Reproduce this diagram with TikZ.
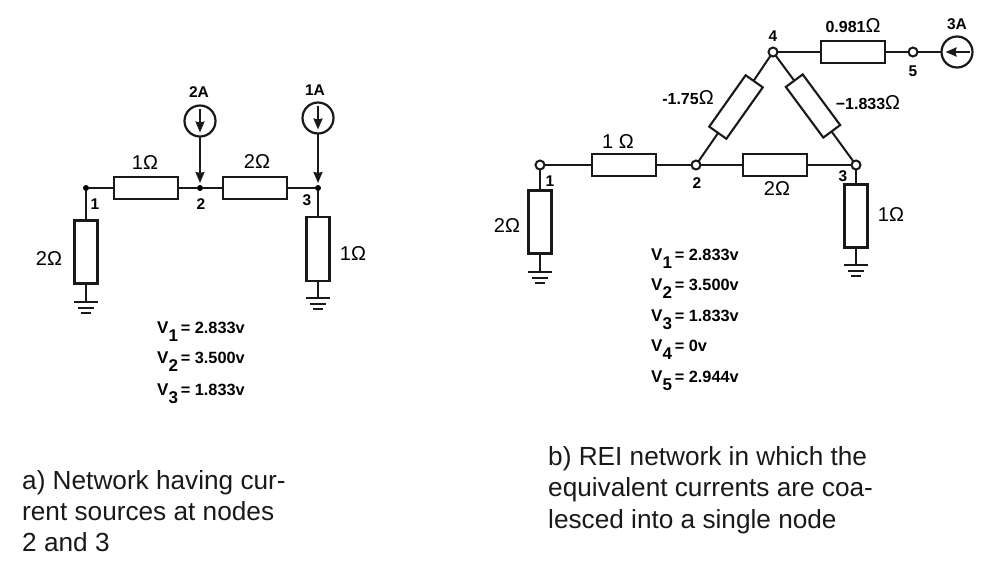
\documentclass[tikz,border=0pt]{standalone}
\usepackage{fontspec}
\setmainfont{Liberation Sans}
\usetikzlibrary{arrows.meta}
\newcommand{\sz}[1]{\fontsize{#1}{#1}\selectfont}
\newcommand{\vlab}[2]{\sz{17}\bfseries V\raisebox{-8pt}{\sz{17}#1}\,\sz{16.3}#2}
\newcommand{\gndsym}[1]{%
  \draw[wire] ([xshift=-12pt]#1.center) -- ([xshift=12pt]#1.center);
  \draw[wire] ([xshift=-8pt,yshift=-5.5pt]#1.center) -- ([xshift=8pt,yshift=-5.5pt]#1.center);
  \draw[wire] ([xshift=-5pt,yshift=-11pt]#1.center) -- ([xshift=5pt,yshift=-11pt]#1.center);}
\tikzset{
  x=1pt,y=-1pt,
  wire/.style={line width=2pt,draw=black!90},
  res/.style={draw=black!90,line width=2.1pt,fill=white,minimum width=64pt,minimum height=22pt,inner sep=0pt,outer sep=0pt},
  src/.style={circle,draw=black!90,line width=2.2pt,fill=white,minimum size=31pt,inner sep=0pt,outer sep=0pt},
  opennode/.style={circle,draw=black!90,line width=2pt,fill=white,minimum size=9pt,inner sep=0pt,outer sep=0pt},
  dotnode/.style={circle,fill=black,minimum size=6pt,inner sep=0pt,outer sep=0pt},
  gnd/.style={inner sep=0pt,outer sep=0pt,minimum size=0pt},
  arr/.style={wire,-{Stealth[length=11pt,width=9pt,inset=1pt]}},
  lab/.style={inner sep=0pt,font=\sz{15.5}\bfseries},
  ohm/.style={inner sep=0pt,font=\sz{20}},
  vl/.style={inner sep=0pt,anchor=base west},
  captext/.style={inner sep=0pt,anchor=base west,font=\sz{26.2},text=black!90},
}
\begin{document}
\begin{tikzpicture}
\useasboundingbox (0,0) rectangle (987,566);
% ---- network a
\node[dotnode] (a1) at (86,188) {};
\node[dotnode] (a2) at (200,188) {};
\node[dotnode] (a3) at (318,188) {};
\node[res] (ar12) at (146,188) {};
\node[res] (ar23) at (255,188) {};
\node[res,minimum width=23pt,minimum height=63pt] (ar1g) at (86,252) {};
\node[res,minimum width=23pt,minimum height=64pt] (ar3g) at (318,249) {};
\node[gnd] (ag1) at (86,302) {};
\node[gnd] (ag3) at (318,298) {};
\node[src] (as2) at (200,121) {};
\node[src] (as3) at (318,118) {};
\draw[wire] (a1) -- (ar12);
\draw[wire] (ar12) -- (a2);
\draw[wire] (a2) -- (ar23);
\draw[wire] (ar23) -- (a3);
\draw[wire] (a1) -- (ar1g);
\draw[wire] (a3) -- (ar3g);
\draw[wire] (ar1g) -- (ag1);
\draw[wire] (ar3g) -- (ag3);
\gndsym{ag1}
\gndsym{ag3}
\draw[arr] (as2.north) ++(0,3) -- ++(0,24);
\draw[arr] (as3.north) ++(0,3) -- ++(0,24);
\draw[arr] (as2.south) -- ([yshift=2pt]a2.north);
\draw[arr] (as3.south) -- ([yshift=2pt]a3.north);
\node[lab] at (95,204) {1};
\node[lab] at (201,204) {2};
\node[lab] at (307,200) {3};
\node[lab] at (199,92) {2A};
\node[lab] at (315,90) {1A};
\node[ohm] at (145,163) {1Ω};
\node[ohm] at (257,162) {2Ω};
\node[ohm] at (353,254) {1Ω};
\node[ohm] at (49,259) {2Ω};
\node[vl] at (157,333) {\vlab{1}{= 2.833v}};
\node[vl] at (157,363) {\vlab{2}{= 3.500v}};
\node[vl] at (157,395) {\vlab{3}{= 1.833v}};
% ---- network b
\node[opennode] (b1) at (540,165) {};
\node[opennode] (b2) at (696,165) {};
\node[opennode] (b3) at (856,165) {};
\node[opennode] (b4) at (773,52) {};
\node[opennode] (b5) at (913,52) {};
\node[res] (br12) at (624,165) {};
\node[res] (br23) at (775,165) {};
\node[res] (br45) at (853,52) {};
\node[res,minimum width=23pt,minimum height=63pt] (br1g) at (540,222) {};
\node[res,minimum width=23pt,minimum height=63pt] (br3g) at (856,216) {};
\node[res,rotate=54.7,minimum width=63pt,minimum height=21pt] (br24) at (736,107) {};
\node[res,rotate=-53.5,minimum width=63pt,minimum height=21pt] (br34) at (813,106) {};
\node[src] (bs5) at (957,52) {};
\node[gnd] (bg1) at (540,272) {};
\node[gnd] (bg3) at (856,265) {};
\draw[wire] (b1) -- (br12);
\draw[wire] (br12) -- (b2);
\draw[wire] (b2) -- (br23);
\draw[wire] (br23) -- (b3);
\draw[wire] (b4) -- (br45);
\draw[wire] (br45) -- (b5);
\draw[wire] (b5) -- (bs5);
\draw[wire] (b1) -- (br1g);
\draw[wire] (b3) -- (br3g);
\draw[wire] (br1g) -- (bg1);
\draw[wire] (br3g) -- (bg3);
\draw[wire] (b2) -- (br24);
\draw[wire] (br24) -- (b4);
\draw[wire] (b4) -- (br34);
\draw[wire] (br34) -- (b3);
\gndsym{bg1}
\gndsym{bg3}
\draw[arr] (bs5.east) ++(-3,0) -- ++(-24,0);
\node[lab] at (550,181) {1};
\node[lab] at (697,183) {2};
\node[lab] at (843,176) {3};
\node[lab] at (773,36) {4};
\node[lab] at (913,71) {5};
\node[lab] at (957,24) {3A};
\node[ohm] at (853,26) {\sz{16}\bfseries 0.981\sz{20}\mdseries Ω};
\node[ohm] at (688,98) {\sz{16}\bfseries -1.75\sz{20}\mdseries Ω};
\node[ohm] at (868,103) {\sz{16}\bfseries −1.833\sz{20}\mdseries Ω};
\node[ohm] at (618,142) {1 Ω};
\node[ohm] at (777,189) {2Ω};
\node[ohm] at (891,215) {1Ω};
\node[ohm] at (507,226) {2Ω};
\node[vl] at (651,260) {\vlab{1}{= 2.833v}};
\node[vl] at (651,290) {\vlab{2}{= 3.500v}};
\node[vl] at (651,321) {\vlab{3}{= 1.833v}};
\node[vl] at (651,351) {\vlab{4}{= 0v}};
\node[vl] at (651,382) {\vlab{5}{= 2.944v}};
% ---- captions
\node[captext] at (22,489) {a) Network having cur-};
\node[captext] at (22,520) {rent sources at nodes};
\node[captext] at (22,551) {2 and 3};
\node[captext] at (548,465) {b) REI network in which the};
\node[captext] at (548,496) {equivalent currents are coa-};
\node[captext] at (548,528) {lesced into a single node};
\end{tikzpicture}
\end{document}
